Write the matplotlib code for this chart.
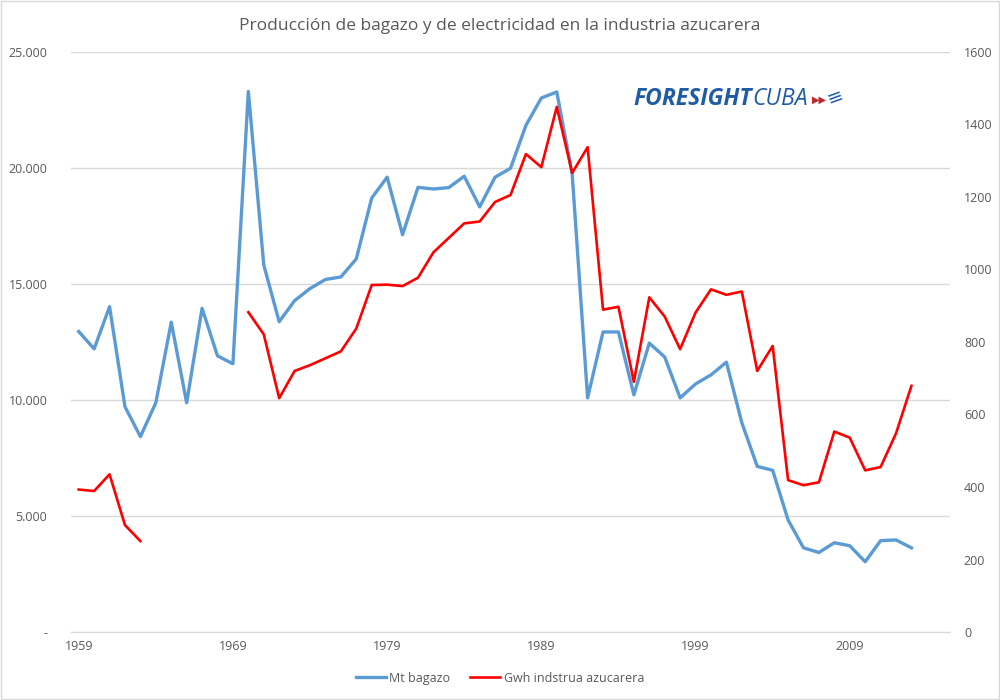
import numpy as np
import matplotlib.pyplot as plt
from matplotlib.ticker import FuncFormatter

# ── Data ─────────────────────────────────────────────────────────────────────
years = list(range(1959, 2016))

bagazo = [12950, 12200, 14020, 9710, 8420, 9880, 13350, 9880, 13950, 11900,
          11560, 23290, 15820, 13370, 14280, 14800, 15190, 15300, 16080, 18700,
          19600, 17120, 19160, 19090, 19150, 19640, 18320, 19600, 19980, 21830,
          23010, 23270, 19730, 10090, 12930, 12930, 10220, 12450, 11850, 10090,
          10690, 11080, 11630, 9020, 7140, 6970, 4830, 3630, 3430, 3850,
          3720, 3030, 3940, 3970, 3630, np.nan, np.nan]

gwh = [393, 389, 435, 295, 251, np.nan, np.nan, np.nan, np.nan, np.nan,
       np.nan, 882, 821, 645, 720, 736, 755, 774, 837, 957,
       958, 954, 977, 1047, 1087, 1127, 1132, 1186, 1205, 1318,
       1282, 1448, 1266, 1337, 889, 897, 690, 923, 870, 780,
       881, 945, 930, 939, 720, 789, 419, 405, 413, 553,
       536, 446, 455, 548, 679, np.nan, np.nan]

x_ticks = [1959, 1969, 1979, 1989, 1999, 2009]
left_ticks = [0, 5000, 10000, 15000, 20000, 25000]
right_ticks = list(range(0, 1601, 200))

BLUE = "#5B9BD5"
RED = "#FF0000"
GREY = "#595959"
GRID = "#D9D9D9"
LOGO = "#1F5CA8"

plt.rcParams["font.family"] = ["Open Sans", "DejaVu Sans"]

fig = plt.figure(figsize=(10, 7), dpi=100)
ax = fig.add_axes([0.071, 0.097, 0.879, 0.829])
ax2 = ax.twinx()

# ── Lines ─────────────────────────────────────────────────────────────────────
l1, = ax.plot(years, bagazo, color=BLUE, linewidth=2.4, label="Mt bagazo",
              solid_joinstyle="round")
l2, = ax2.plot(years, gwh, color=RED, linewidth=1.9,
               label="Gwh indstrua azucarera", solid_joinstyle="round")
ax.set_zorder(ax2.get_zorder() - 1)
ax.patch.set_visible(False)

# ── Axes ──────────────────────────────────────────────────────────────────────
ax.set_xlim(1958.5, 2015.5)
ax.set_ylim(0, 25000)
ax2.set_ylim(0, 1600)

ax.set_xticks(x_ticks)
ax.set_yticks(left_ticks)
ax.yaxis.set_major_formatter(FuncFormatter(
    lambda v, p: "-" if v == 0 else f"{int(v):,}".replace(",", ".")))
ax2.set_yticks(right_ticks)

ax.grid(axis="y", color=GRID, linewidth=1)
ax.set_axisbelow(True)

for a in (ax, ax2):
    for s in a.spines.values():
        s.set_visible(False)
    a.tick_params(length=0, colors=GREY, labelsize=9)
ax.spines["bottom"].set_visible(True)
ax.spines["bottom"].set_color(GRID)
ax.tick_params(axis="y", pad=17)
ax2.tick_params(axis="y", pad=10)
ax.tick_params(axis="x", pad=6)

# ── Title, logo, legend ───────────────────────────────────────────────────────
fig.text(0.5, 0.963, "Producción de bagazo y de electricidad en la industria azucarera",
         ha="center", va="center", fontsize=12.5, color=GREY)

t1 = ax.text(0.64, 0.918, "FORESIGHT", transform=ax.transAxes, ha="left",
             va="center", fontsize=16.5, fontweight="bold", fontstyle="italic",
             color=LOGO)
t2 = ax.annotate("CUBA", xy=(1, 0.5), xycoords=t1, ha="left", va="center",
                 fontsize=16.5, fontstyle="italic", color=LOGO)
t3 = ax.annotate("▶▶", xy=(1, 0.5), xycoords=t2, xytext=(3, 0),
                 textcoords="offset points", ha="left", va="center",
                 fontsize=7, color="#C0272D", family=["DejaVu Sans"])
ax.annotate("≡", xy=(1, 0.5), xycoords=t3, xytext=(-2, 2),
            textcoords="offset points", ha="left", va="center",
            fontsize=14, color=LOGO, rotation=20, family=["DejaVu Sans"])

fig.legend(handles=[l1, l2], loc="center", bbox_to_anchor=(0.5, 0.031),
           ncol=2, frameon=False, fontsize=9, labelcolor=GREY,
           handlelength=2.4, columnspacing=1.6, handletextpad=0.3)

# light border round the chart
fig.patches.append(plt.Rectangle((0.001, 0.001), 0.998, 0.998, transform=fig.transFigure,
                                 fill=False, edgecolor=GRID, linewidth=1))

plt.savefig("out.png", dpi=100, facecolor="white")
